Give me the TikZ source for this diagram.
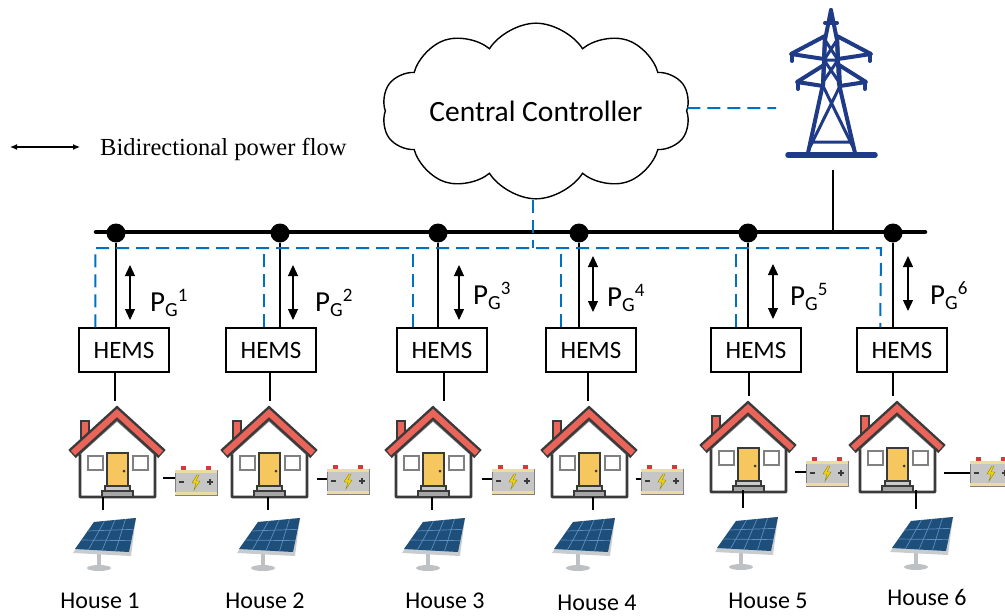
\documentclass[tikz,border=0pt]{standalone}
\usepackage{fontspec}
\setmainfont{Carlito}
\newfontfamily\legendfont{Liberation Serif}
\usetikzlibrary{shapes.symbols,arrows.meta,calc}

\definecolor{ctrlblue}{HTML}{0070C0}
\definecolor{towerblue}{HTML}{1F3A87}
\definecolor{roofred}{HTML}{EA6459}
\definecolor{outline}{HTML}{3A3A3A}
\definecolor{doorgold}{HTML}{F6C65F}
\definecolor{stepgray}{HTML}{A6A6A6}
\definecolor{panelblue}{HTML}{1E4E7A}
\definecolor{gridblue}{HTML}{5A8FC0}
\definecolor{framegray}{HTML}{C8CCCF}
\definecolor{battgray}{HTML}{C6C6C6}
\definecolor{battcream}{HTML}{EADCA2}
\definecolor{termred}{HTML}{D9363E}
\definecolor{boltyellow}{HTML}{F2D416}

\newcommand\powerlabel[1]{P\raisebox{-5pt}{\fontsize{20}{20}\selectfont G}\raisebox{10pt}{\fontsize{19}{19}\selectfont #1}}

\tikzset{
  x=1pt, y=-1pt,
  bus/.style={line width=4.5pt, line cap=round},
  wire/.style={line width=1.3pt},
  ctrl/.style={ctrlblue, line width=2pt, dash pattern=on 13pt off 7pt},
  hems/.style={draw, line width=1.5pt, fill=white, minimum width=90pt,
    minimum height=44pt, inner sep=0pt, font=\fontsize{25}{25}\selectfont},
  junction/.style={circle, fill=black, minimum size=19pt, inner sep=0pt},
  flow/.style={line width=1.3pt,
    {Triangle[length=11pt,width=10pt]}-{Triangle[length=11pt,width=10pt]}},
  housename/.style={font=\fontsize{24}{24}\selectfont, inner sep=0pt},
  pglabel/.style={anchor=base west, inner sep=0pt, font=\fontsize{29}{29}\selectfont},
  % house icon, origin at the roof apex
  house/.pic={
    \filldraw[fill=roofred, draw=outline, line width=1.8pt] (-36,16) rectangle (-28,38);
    \filldraw[fill=white, draw=outline, line width=2.8pt, line join=round]
      (-37,92) -- (-37,42) -- (0,8) -- (38,42) -- (38,92) -- cycle;
    \draw[stepgray!80!black, line width=4pt] (-38,48) -- (0,14) -- (38,48);
    \draw[outline, line width=11pt, line join=miter] (-45,49) -- (0,8) -- (45,49);
    \draw[roofred, line width=6pt, line join=miter] (-44,48) -- (0,8) -- (44,48);
    \filldraw[fill=white, draw=gray, line width=1.5pt] (-29,51) rectangle (-14,65);
    \filldraw[fill=white, draw=gray, line width=1.5pt] (16,51) rectangle (31,65);
    \filldraw[fill=doorgold, draw=outline, line width=1.8pt] (-10,48) rectangle (11,82);
    \fill[outline] (7,66) circle (1.5);
    \filldraw[fill=stepgray!60, draw=outline, line width=1.3pt] (-12,81) rectangle (13,86);
    \filldraw[fill=stepgray, draw=outline, line width=1.3pt] (-15,86) rectangle (16,92);
  },
  % storage battery, origin at the body's top left corner
  battery/.pic={
    \fill[termred] (6,-4) rectangle (11,0);
    \fill[termred] (31,-4) rectangle (36,0);
    \filldraw[fill=battgray, draw=gray, line width=0.8pt] (0,0) rectangle (42,25);
    \fill[battcream] (0,0) rectangle (42,3);
    \fill[battcream] (0,22) rectangle (42,25);
    \draw[outline, line width=1.5pt] (4,12) -- (9,12);
    \draw[outline, line width=1.5pt] (32,12) -- (38,12) (35,9) -- (35,15);
    \filldraw[fill=boltyellow, draw=olive, line width=0.4pt]
      (22,5) -- (17,13) -- (21,13) -- (19,20) -- (25,11) -- (21,11) -- (24,5) -- cycle;
  },
  % solar panel on a stand, origin at the top left of its box
  solar/.pic={
    \fill[framegray!85!gray] (24,36) rectangle (28,48);
    \fill[framegray!85!gray] (26,50) ellipse (12 and 3);
    \fill[framegray] (0,35) -- (21,4) -- (63,0) -- (58,38) -- cycle;
    \fill[panelblue] (2,31) -- (21,4) -- (63,0) -- (56,34) -- cycle;
    \foreach \t in {0.25,0.5,0.75}
      \draw[gridblue, line width=0.7pt] ($(2,31)!\t!(56,34)$) -- ($(21,4)!\t!(63,0)$);
    \foreach \t in {0.333,0.667}
      \draw[gridblue, line width=0.7pt] ($(2,31)!\t!(21,4)$) -- ($(56,34)!\t!(63,0)$);
  },
}

\begin{document}
\begin{tikzpicture}
\useasboundingbox (0,0) rectangle (1005,616);

% legend
\coordinate (la) at (10,147);
\coordinate (lb) at (80,147);
\draw[line width=1.2pt, {Latex[length=7pt,width=6pt]}-{Latex[length=7pt,width=6pt]}] (la) -- (lb);
\node[anchor=base west, inner sep=0pt] (legend) at (100,155)
  {\legendfont\fontsize{24.5}{25}\selectfont Bidirectional power flow};

% central controller
\node[cloud, draw, line width=1.4pt, cloud puffs=10, cloud puff arc=115, aspect=2.3,
  minimum width=296pt, minimum height=126pt, inner sep=0pt,
  font=\fontsize{29.5}{30}\selectfont] (cc) at (536,111) {Central Controller};

% transmission tower
\begin{scope}[towerblue, line width=4pt, line join=round, line cap=round]
  \draw (831,10) -- (825,40) -- (823,84) -- (808,153);
  \draw (831,10) -- (837,40) -- (839,84) -- (855,153);
  \draw (825,23) -- (837,23);
  % upper cross arm
  \draw (825,36) -- (791,54) -- (824,59) -- cycle;
  \draw (837,36) -- (871,54) -- (838,59) -- cycle;
  \draw (792,55) -- (792,61) (870,55) -- (870,61);
  % lower cross arm
  \draw (824,65) -- (797,82) -- (823,86) -- cycle;
  \draw (839,65) -- (866,82) -- (840,86) -- cycle;
  \draw (798,83) -- (798,89) (865,83) -- (865,89);
  % lattice
  \draw[line width=3pt] (825,40) -- (838,60) (837,40) -- (824,60)
    (824,60) -- (839,82) (838,60) -- (823,82) (824,60) -- (838,60);
  \draw[line width=3pt] (823,86) -- (853,147) (840,86) -- (810,147)
    (811,142) -- (852,142);
  \draw[line width=5.5pt] (788,155) -- (875,155);
\end{scope}
\coordinate (towerlink) at (776,108);
\coordinate (towerfoot) at (833,170);

% power bus
\coordinate (busL) at (96,232);
\coordinate (busR) at (925,232);
\draw[bus] (busL) -- (busR);
\draw[wire] (towerfoot) -- (towerfoot |- busL);

\foreach \n/\x in {1/116, 2/280, 3/438, 4/579, 5/748, 6/893}
  \node[junction] (d\n) at (\x,233) {};

% home energy management systems
\foreach \n/\x in {1/124, 2/271, 3/442, 4/591, 5/756, 6/902}
  \node[hems] (h\n) at (\x,350) {HEMS};

\foreach \n in {1,...,6}
  \draw[wire] (d\n) -- (d\n |- h\n.north);

% control links
\coordinate (ctrlrow) at (0,248);
\draw[ctrl] ([yshift=3pt]cc.east) -- (towerlink);
\draw[ctrl] ([xshift=-3pt]cc.south) -- ([xshift=-3pt]cc.south |- ctrlrow);
\draw[ctrl] ([xshift=17pt]h1.north west) |- (881,248) -- ([xshift=24pt]h6.north west);
\draw[ctrl] ([xshift=39pt]h2.north west) -- ++(0,-80);
\draw[ctrl] ([xshift=17pt]h3.north west) -- ++(0,-80);
\draw[ctrl] ([xshift=16pt]h4.north west) -- ++(0,-80);
\draw[ctrl] ([xshift=26pt]h5.north west) -- ++(0,-80);

% power flow arrows and labels
\foreach \n/\x/\ya/\yb in {1/130/265/320, 2/293/265/320, 3/459/265/320,
    4/593/256/312, 5/773/264/319, 6/908/256/311}
  \draw[flow] (\x,\ya) coordinate (fa\n) -- (\x,\yb) coordinate (fb\n);
\foreach \n/\x/\y in {1/150/311, 2/315/311, 3/473/304, 4/607/306, 5/790/305, 6/930/304}
  \node[pglabel] (p\n) at (\x,\y) {\powerlabel{\n}};

% houses
\foreach \n/\x/\y in {1/117/405, 2/269/405, 3/433/405, 4/589/405, 5/748/400, 6/897/400}
  \pic at (\x,\y) {house};
\foreach \n/\x/\y in {1/115/401, 2/270/401, 3/444/401, 4/588/401, 5/749/396, 6/893/396}{
  \coordinate (r\n) at (\x,\y);
  \draw[wire] (r\n |- h\n.south) -- (r\n);
}

% batteries
\foreach \n/\xa/\xb/\y in {1/163/175/478, 2/317/327/479, 3/482/492/479,
    4/636/641/479, 5/795/806/472, 6/944/970/473}{
  \coordinate (ba\n) at (\xa,\y);
  \coordinate (bb\n) at (\xb,\y);
  \draw[wire] (ba\n) -- (bb\n);
}
\foreach \x/\y in {175/470, 327/469, 492/469, 641/469, 806/461, 970/461}
  \pic at (\x,\y) {battery};

% solar panels
\foreach \n/\x/\ya/\yb in {1/103/497/510, 2/268/497/510, 3/432/497/510,
    4/593/497/510, 5/743/490/508, 6/916/490/509}{
  \coordinate (sa\n) at (\x,\ya);
  \coordinate (sb\n) at (\x,\yb);
  \draw[wire] (sa\n) -- (sb\n);
}
\foreach \x/\y in {73/518, 237/518, 402/518, 552/518, 715/517, 890/517}
  \pic at (\x,\y) {solar};

% house names
\foreach \n/\x/\y in {1/100/601, 2/265/601, 3/445/601, 4/597/603, 5/768/601, 6/927/597}
  \node[housename] (name\n) at (\x,\y) {House \n};
\end{tikzpicture}
\end{document}
